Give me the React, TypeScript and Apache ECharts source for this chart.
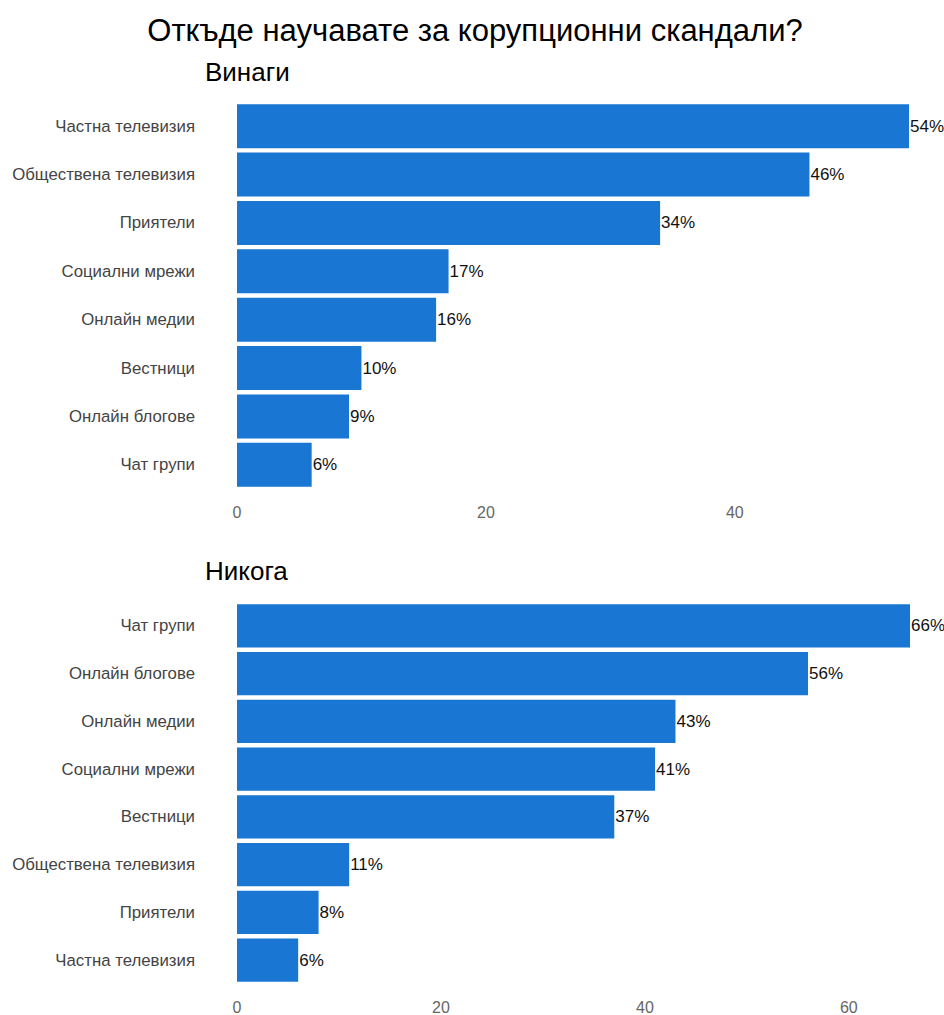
import React, { useEffect, useRef } from "react";
import * as echarts from "echarts";

const titleText = "Откъде научавате за корупционни скандали?";
const subtitleTop = "Винаги";
const subtitleBottom = "Никога";

const alwaysCategories = [
  "Частна телевизия",
  "Обществена телевизия",
  "Приятели",
  "Социални мрежи",
  "Онлайн медии",
  "Вестници",
  "Онлайн блогове",
  "Чат групи",
];
const alwaysValues = [54, 46, 34, 17, 16, 10, 9, 6];

const neverCategories = [
  "Чат групи",
  "Онлайн блогове",
  "Онлайн медии",
  "Социални мрежи",
  "Вестници",
  "Обществена телевизия",
  "Приятели",
  "Частна телевизия",
];
const neverValues = [66, 56, 43, 41, 37, 11, 8, 6];

const FONT = "'Liberation Sans', Arial, sans-serif";
const BAR_COLOR = "#1976d2";

export default function App() {
  const ref = useRef<HTMLDivElement>(null);
  useEffect(() => {
    document.body.style.margin = "0";
    if (!ref.current) return;
    const chart = echarts.init(ref.current, undefined, { renderer: "svg" });
    const xAxisCommon = {
      type: "value" as const,
      min: 0,
      interval: 20,
      axisLine: { show: false },
      axisTick: { show: false },
      splitLine: { show: false },
      axisLabel: {
        color: "#666",
        fontSize: 16,
        fontFamily: FONT,
        margin: 15,
        showMaxLabel: false,
      },
    };
    const yAxisCommon = {
      type: "category" as const,
      inverse: true,
      axisLine: { show: false },
      axisTick: { show: false },
      splitLine: { show: false },
      axisLabel: { color: "#444", fontSize: 16.8, fontFamily: FONT, margin: 42 },
    };
    const seriesCommon = {
      type: "bar" as const,
      barCategoryGap: "9%",
      itemStyle: { color: BAR_COLOR },
      label: {
        show: true,
        position: "right" as const,
        distance: 1,
        color: "#111",
        fontSize: 17,
        fontFamily: FONT,
        formatter: "{c}%",
      },
    };
    chart.setOption({
      animation: false,
      backgroundColor: "#fff",
      textStyle: { fontFamily: FONT },
      graphic: [
        {
          type: "text",
          x: 475,
          y: 30,
          style: {
            text: titleText,
            fontSize: 31,
            fontFamily: FONT,
            fill: "#000",
            align: "center",
            verticalAlign: "middle",
          },
        },
        {
          type: "text",
          x: 205,
          y: 72,
          style: {
            text: subtitleTop,
            fontSize: 26,
            fontFamily: FONT,
            fill: "#000",
            align: "left",
            verticalAlign: "middle",
          },
        },
        {
          type: "text",
          x: 205,
          y: 571,
          style: {
            text: subtitleBottom,
            fontSize: 26,
            fontFamily: FONT,
            fill: "#000",
            align: "left",
            verticalAlign: "middle",
          },
        },
      ],
      grid: [
        { left: 237, right: 35, top: 102, height: 387 },
        { left: 237, right: 34, top: 602, height: 385 },
      ],
      xAxis: [
        { ...xAxisCommon, gridIndex: 0, max: 54 },
        { ...xAxisCommon, gridIndex: 1, max: 66 },
      ],
      yAxis: [
        { ...yAxisCommon, gridIndex: 0, data: alwaysCategories },
        { ...yAxisCommon, gridIndex: 1, data: neverCategories },
      ],
      series: [
        { ...seriesCommon, xAxisIndex: 0, yAxisIndex: 0, data: alwaysValues },
        { ...seriesCommon, xAxisIndex: 1, yAxisIndex: 1, data: neverValues },
      ],
    });
    return () => chart.dispose();
  }, []);
  return <div ref={ref} style={{ width: 944, height: 1015 }} />;
}
